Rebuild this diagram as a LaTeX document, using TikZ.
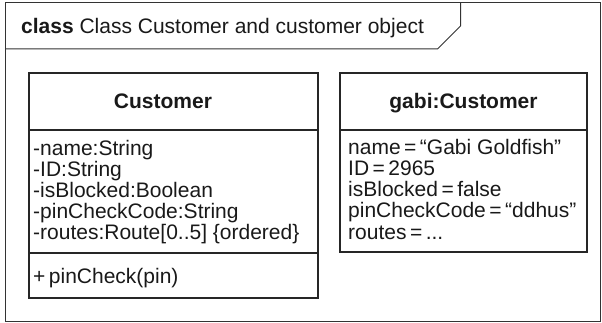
\documentclass[tikz,border=0pt]{standalone}
\usepackage{fontspec}
\setmainfont{Liberation Sans}
\begin{document}
\begin{tikzpicture}[x=1pt,y=-1pt,
  frame/.style={draw=black!80,line width=1pt},
  box/.style={draw=black!85,line width=1.2pt},
  txt/.style={inner sep=0pt,anchor=base west,font=\fontsize{21}{21.2}\selectfont,text=black!90,align=left},
  ttl/.style={inner sep=0pt,anchor=base,font=\bfseries\fontsize{21}{21}\selectfont,text=black!90}]
\useasboundingbox (0,0) rectangle (602,323);
% outer frame
\draw[frame] (5,3) rectangle (600,321.5);
\draw[frame] (5,49) -- (437.5,49) -- (460.5,26) -- (460.5,3);
\node[txt] (title) at (21,33.5) {\textbf{class} Class Customer and customer object};
% class box
\draw[box] (29,73) rectangle (318,298);
\draw[box] (29,130) -- (318,130);
\draw[box] (29,253) -- (318,253);
\node[ttl] (cname) at (163,109) {Customer};
\node[txt] (cattr) at (33,239.8) {-name:String\\-ID:String\\-isBlocked:Boolean\\-pinCheckCode:String\\-routes:Route[0..5] \{ordered\}};
\node[txt] (cop) at (33,283) {+\,pinCheck(pin)};
% object box
\draw[box] (340,73) rectangle (587,252);
\draw[box] (340,130) -- (587,130);
\node[ttl] (oname) at (463.5,109) {gabi:Customer};
\node[txt] (oattr) at (348,239) {name\,=\,“Gabi Goldfish”\\ID\,=\,2965\\isBlocked\,=\,false\\pinCheckCode\,=\,“ddhus”\\routes\,=\,...};
\end{tikzpicture}
\end{document}
